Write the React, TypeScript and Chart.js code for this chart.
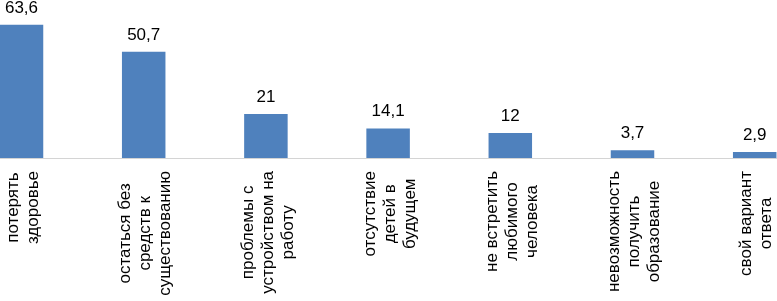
import React, { useEffect, useRef } from "react";
import { Chart, registerables } from "chart.js";

Chart.register(...registerables);

const categories: string[][] = [
  ["потерять", "здоровье"],
  ["остаться без", "средств к", "существованию"],
  ["проблемы с", "устройством на", "работу"],
  ["отсутствие", "детей в", "будущем"],
  ["не встретить", "любимого", "человека"],
  ["невозможность", "получить", "образование"],
  ["свой вариант", "ответа"],
];

const values: number[] = [63.6, 50.7, 21, 14.1, 12, 3.7, 2.9];

const valueLabels: string[] = ["63,6", "50,7", "21", "14,1", "12", "3,7", "2,9"];

const FONT = "17px 'Liberation Sans', Arial, sans-serif";

const labelPlugin = {
  id: "customLabels",
  afterDatasetsDraw(chart: any) {
    const ctx = chart.ctx;
    const xScale = chart.scales.x;
    const yScale = chart.scales.y;
    const area = chart.chartArea;
    ctx.save();
    ctx.font = FONT;
    ctx.fillStyle = "#000";
    // value labels
    ctx.textAlign = "center";
    ctx.textBaseline = "alphabetic";
    values.forEach((v, i) => {
      const x = xScale.getPixelForValue(i);
      const y = yScale.getPixelForValue(v);
      ctx.fillText(valueLabels[i], x, y - 12);
    });
    // category labels rotated
    const lineHeight = 20;
    categories.forEach((lines, i) => {
      const x = xScale.getPixelForValue(i) + 2;
      const yTop = area.bottom + 13;
      const maxW = Math.max(...lines.map((l) => ctx.measureText(l).width));
      ctx.save();
      ctx.translate(x, yTop);
      ctx.rotate(-Math.PI / 2);
      ctx.textAlign = "center";
      ctx.textBaseline = "middle";
      const n = lines.length;
      lines.forEach((line, j) => {
        ctx.fillText(line, -maxW / 2, (j - (n - 1) / 2) * lineHeight);
      });
      ctx.restore();
    });
    ctx.restore();
  },
};

export default function App() {
  const canvasRef = useRef<HTMLCanvasElement | null>(null);

  useEffect(() => {
    if (!canvasRef.current) return;
    const chart = new Chart(canvasRef.current, {
      type: "bar",
      data: {
        labels: categories.map((c) => c.join(" ")),
        datasets: [
          {
            data: values,
            backgroundColor: "#4f81bd",
            borderWidth: 0,
            categoryPercentage: 1,
            barPercentage: 0.356,
          },
        ],
      },
      options: {
        animation: false,
        responsive: false,
        devicePixelRatio: 1,
        layout: { padding: { top: 1, left: 2.4, right: 2.2, bottom: 0 } },
        plugins: {
          legend: { display: false },
          tooltip: { enabled: false },
          title: { display: false },
        },
        scales: {
          x: {
            grid: { display: false },
            border: { display: true, color: "#d4d4d4", width: 1 },
            ticks: { display: false },
            afterFit: (scale: any) => {
              scale.height = 143;
            },
          },
          y: {
            display: false,
            min: 0,
            max: 75,
          },
        },
      },
      plugins: [labelPlugin],
    });
    return () => chart.destroy();
  }, []);

  return (
    <div
      style={{
        position: "fixed",
        top: 0,
        left: 0,
        width: 777,
        height: 301,
        overflow: "hidden",
        background: "#fff",
      }}
    >
      <div style={{ position: "absolute", left: -42, top: 0, width: 860, height: 301 }}>
        <canvas ref={canvasRef} width={860} height={301} style={{ display: "block" }} />
      </div>
    </div>
  );
}
